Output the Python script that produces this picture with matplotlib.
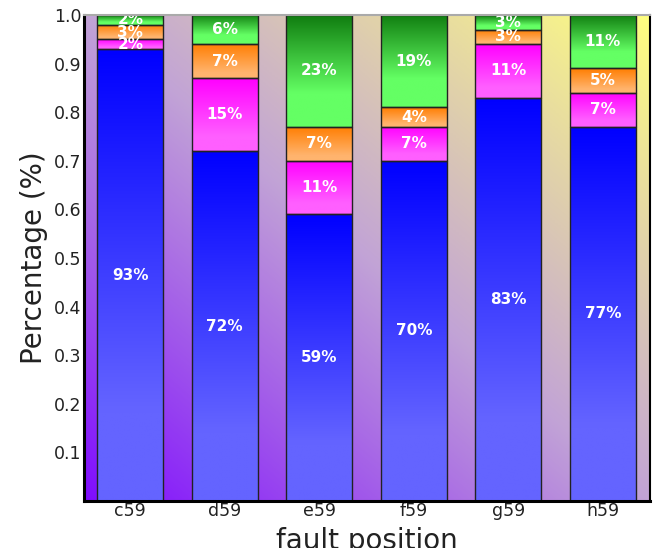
import numpy as np
import matplotlib
matplotlib.use("Agg")
import matplotlib.pyplot as plt
from matplotlib.colors import LinearSegmentedColormap

categories = ["c59", "d59", "e59", "f59", "g59", "h59"]
blue_vals = [0.93, 0.72, 0.59, 0.70, 0.83, 0.77]
magenta_vals = [0.02, 0.15, 0.11, 0.07, 0.11, 0.07]
orange_vals = [0.03, 0.07, 0.07, 0.04, 0.03, 0.05]
green_vals = [0.02, 0.06, 0.23, 0.19, 0.03, 0.11]
yticks = [0.1, 0.2, 0.3, 0.4, 0.5, 0.6, 0.7, 0.8, 0.9, 1.0]

series = [blue_vals, magenta_vals, orange_vals, green_vals]
# (top colour, bottom colour, fraction where bottom colour is reached)
grads = [
    ((0, 0, 255), (100, 100, 255), 0.8),
    ((255, 0, 255), (255, 95, 255), 0.8),
    ((255, 125, 0), (255, 180, 110), 0.85),
    ((16, 125, 16), (100, 255, 100), 0.7),
]

fig = plt.figure(figsize=(6.55, 5.48), dpi=100)
ax = fig.add_axes([84/655, 1-501/548, 566/655, 486/548])

# background diagonal gradient
bg = LinearSegmentedColormap.from_list(
    "bg", [(0, (0.5, 0.05, 1.0)), (0.5, (0.76, 0.64, 0.84)), (1, (1.0, 1.0, 0.5))])
n = 200
u = np.linspace(0, 1, n)
U, V = np.meshgrid(u, u)
T = (U + V) / 2
ax.imshow(T, cmap=bg, extent=(0, 1, 0, 1), origin="lower", aspect="auto",
          transform=ax.transAxes, zorder=0, interpolation="bilinear")

x = np.arange(len(categories))
width = 0.7
bottom = np.zeros(len(categories))
for vals, (ctop, cbot, frac) in zip(series, grads):
    vals = np.array(vals)
    bars = ax.bar(x, vals, width, bottom=bottom, facecolor="none",
                  edgecolor="#222222", linewidth=1.0, zorder=3)
    ct = np.array(ctop) / 255
    cb = np.array(cbot) / 255
    m = 100
    s = np.linspace(0, 1, m)  # 0 at bottom, 1 at top
    w = np.clip((1 - s) / frac, 0, 1)
    img = ct[None, :] * (1 - w[:, None]) + cb[None, :] * w[:, None]
    img = img[:, None, :]
    for xi, b, v, rect in zip(x, bottom, vals, bars):
        x0 = rect.get_x()
        ax.imshow(img, extent=(x0, x0 + rect.get_width(), b, b + v),
                  origin="lower", aspect="auto", zorder=2, interpolation="bilinear")
        ax.text(xi, b + v / 2, f"{int(round(v * 100))}%", ha="center", va="center",
                color="white", fontsize=11, fontweight="bold", zorder=4)
    bottom = bottom + vals

ax.set_xlim(-0.49, 5.5)
ax.set_ylim(0, 1.0)
ax.set_xticks(x)
ax.set_xticklabels(categories, fontsize=12.5, color="#222222")
ax.set_yticks(yticks)
ax.set_yticklabels([f"{t:.1f}" for t in yticks], fontsize=12.5, color="#222222")
ax.tick_params(length=0, pad=2)
ax.tick_params(axis="x", pad=1)
ax.set_ylabel("Percentage (%)", fontsize=20, color="#222222", labelpad=4)
ax.set_xlabel("fault position", fontsize=20, color="#222222", labelpad=5)
for side in ["left", "bottom"]:
    ax.spines[side].set_linewidth(2.2)
    ax.spines[side].set_color("black")
ax.spines["right"].set_linewidth(1.5)
ax.spines["right"].set_color("black")
ax.spines["top"].set_linewidth(1.5)
ax.spines["top"].set_color("#aaaaaa")
for sp in ax.spines.values():
    sp.set_zorder(5)

fig.savefig("out.png", dpi=100)
